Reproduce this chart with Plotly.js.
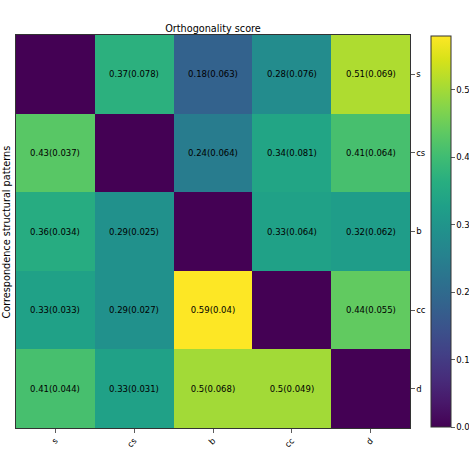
<!DOCTYPE html>
<html>
<head>
<meta charset="utf-8">
<script src="https://cdn.plot.ly/plotly-3.0.1.min.js"></script>
<style>
  html, body { margin: 0; padding: 0; background: #fff; }
  #plot { width: 469px; height: 469px; }
</style>
</head>
<body>
<div id="plot"></div>
<script>
// structural patterns, same order on both axes
const patterns = ['s', 'cs', 'b', 'cc', 'd']

// mean orthogonality score (diagonal is 0)
const meanS  = [0,    0.37, 0.18, 0.28, 0.51]
const meanCS = [0.43, 0,    0.24, 0.34, 0.41]
const meanB  = [0.36, 0.29, 0,    0.33, 0.32]
const meanCC = [0.33, 0.29, 0.59, 0,    0.44]
const meanD  = [0.41, 0.33, 0.5,  0.5,  0]

// standard deviation shown in brackets
const sdS  = [null,  0.078, 0.063, 0.076, 0.069]
const sdCS = [0.037, null,  0.064, 0.081, 0.064]
const sdB  = [0.034, 0.025, null,  0.064, 0.062]
const sdCC = [0.033, 0.027, 0.04,  null,  0.055]
const sdD  = [0.044, 0.031, 0.068, 0.049, null]

const z = [meanS, meanCS, meanB, meanCC, meanD]
const sd = [sdS, sdCS, sdB, sdCC, sdD]

// cell labels "mean(sd)", blank on the diagonal
const labels = z.map((row, i) => row.map((v, j) =>
    sd[i][j] === null ? '' : v + '(' + sd[i][j] + ')'))

const fontFam = 'DejaVu Sans, sans-serif'

const data = [{
    type: 'heatmap',
    x: patterns,
    y: patterns,
    z: z,
    text: labels,
    texttemplate: '%{text}',
    textfont: { family: fontFam, size: 8.5, color: '#000' },
    colorscale: 'Viridis',
    zmin: 0,
    zmax: 0.58,
    hoverinfo: 'skip',
    colorbar: {
        x: 1.053,
        xanchor: 'left',
        xref: 'paper',
        y: 0.5,
        yanchor: 'middle',
        len: 0.995,
        lenmode: 'fraction',
        ypad: 0,
        xpad: 0,
        thickness: 20,
        thicknessmode: 'pixels',
        outlinecolor: '#333',
        outlinewidth: 1,
        ticks: 'outside',
        ticklen: 3.5,
        tickwidth: 0.8,
        tickcolor: '#333',
        tick0: 0,
        dtick: 0.1,
        tickformat: '.1f',
        tickfont: { family: fontFam, size: 8.5, color: '#000' },
    },
}]

const layout = {
    width: 469,
    height: 469,
    margin: { l: 16, r: 59, t: 35, b: 41, autoexpand: false },
    paper_bgcolor: '#fff',
    plot_bgcolor: '#fff',
    font: { family: fontFam, size: 8.5, color: '#000' },
    title: {
        text: 'Orthogonality score',
        font: { family: fontFam, size: 9.7, color: '#000' },
        x: 0.5,
        xref: 'paper',
        xanchor: 'center',
        y: 1,
        yref: 'paper',
        yanchor: 'bottom',
        pad: { b: 3 },
    },
    xaxis: {
        type: 'category',
        showgrid: false,
        zeroline: false,
        showline: true,
        mirror: true,
        linecolor: '#333',
        linewidth: 1,
        ticks: 'outside',
        ticklen: 3.5,
        tickwidth: 0.8,
        tickcolor: '#333',
        tickangle: -45,
        tickfont: { family: fontFam, size: 8.5, color: '#000' },
    },
    yaxis: {
        type: 'category',
        autorange: 'reversed',
        side: 'right',
        showgrid: false,
        zeroline: false,
        showline: true,
        mirror: true,
        linecolor: '#333',
        linewidth: 1,
        ticks: 'outside',
        ticklen: 3.5,
        tickwidth: 0.8,
        tickcolor: '#333',
        tickfont: { family: fontFam, size: 8.5, color: '#000' },
    },
    annotations: [{
        text: 'Correspondence structural patterns',
        textangle: -90,
        xref: 'paper',
        yref: 'paper',
        x: -0.023,
        y: 0.5,
        xanchor: 'center',
        yanchor: 'middle',
        showarrow: false,
        font: { family: fontFam, size: 9.7, color: '#000' },
    }],
}

Plotly.newPlot('plot', data, layout, { displayModeBar: false, staticPlot: true })
</script>
</body>
</html>
